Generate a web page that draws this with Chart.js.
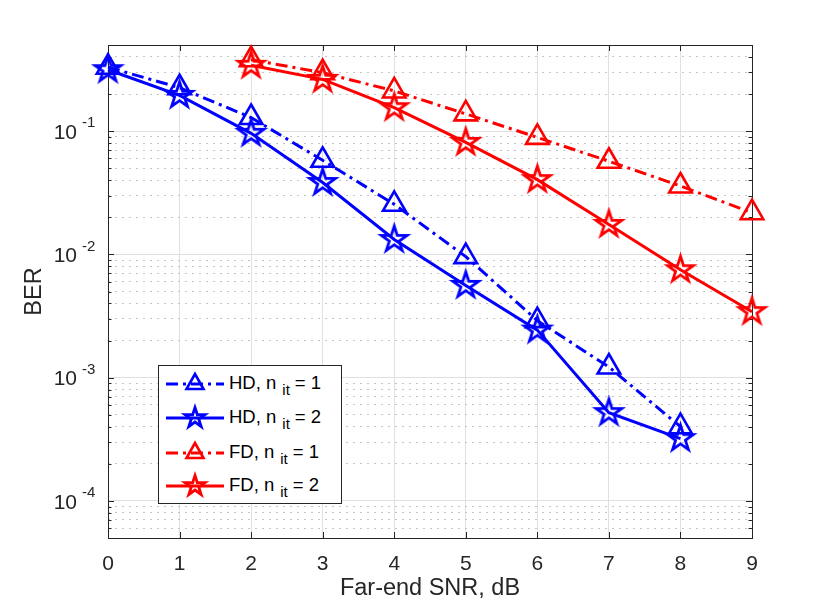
<!DOCTYPE html>
<html>
<head>
<meta charset="utf-8">
<title>BER vs far-end SNR</title>
<script src="https://cdn.jsdelivr.net/npm/chart.js@4.4.1/dist/chart.umd.min.js"></script>
<style>
  body { margin: 0; background: #fff; }
  #wrap { position: relative; width: 830px; height: 605px; }
  #legend {
    position: absolute; left: 158px; top: 365px; width: 182px; height: 137px;
    border: 1px solid #262626; background: #fff;
    font-family: "Liberation Sans", Arial, Helvetica, sans-serif; font-size: 18.5px; color: #000;
  }
  .row { position: absolute; left: 0; width: 182px; height: 30px; }
  .row svg { position: absolute; left: 6px; top: 0; }
  .row span { position: absolute; left: 70px; top: 3px; white-space: nowrap; }
  .row sub { font-size: 15px; position: relative; top: 6px; vertical-align: baseline; margin: 0 5px 0 6px; }
</style>
</head>
<body>
<div id="wrap">
  <canvas id="berChart" width="830" height="605"></canvas>
  <div id="legend"></div>
</div>
<script>
// Far-end SNR in dB
const snrDb = [0, 1, 2, 3, 4, 5, 6, 7, 8, 9];

// BER values (null = not simulated)
const hdIt1 = [0.33, 0.225, 0.129, 0.058, 0.0255, 0.0096, 0.0029, 0.00122, 0.0004, null];
const hdIt2 = [0.315, 0.195, 0.096, 0.0383, 0.0132, 0.0056, 0.00243, 0.00052, 0.00032, null];
const fdIt1 = [null, null, 0.38, 0.298, 0.212, 0.138, 0.089, 0.057, 0.0359, 0.0218];
const fdIt2 = [null, null, 0.342, 0.263, 0.155, 0.081, 0.0404, 0.0175, 0.0075, 0.00343];

// decades that get a "10^n" label
const yDecades = [-4, -3, -2, -1];

const BLUE = '#0000ff';
const RED = '#ff0000';
const AXIS = '#262626';
const FONT = '"Liberation Sans", Arial, Helvetica, sans-serif';
const DASH_DOT = [12, 5, 3, 5];

const isMajor = v => Math.abs(Math.log10(v) - Math.round(Math.log10(v))) < 1e-9;

/**
 * Builds an open pentagram on a small canvas, used as a point style.
 */
function makePentagram(color, outer, lineWidth) {
  const size = Math.ceil(2 * (outer + lineWidth + 1));
  const c = document.createElement('canvas');
  c.width = size;
  c.height = size;
  const g = c.getContext('2d');
  const inner = outer * 0.382;
  g.beginPath();
  for (let k = 0; k < 10; k++) {
    const r = k % 2 === 0 ? outer : inner;
    const a = -Math.PI / 2 + k * Math.PI / 5;
    const px = size / 2 + r * Math.cos(a);
    const py = size / 2 + r * Math.sin(a);
    if (k === 0) g.moveTo(px, py); else g.lineTo(px, py);
  }
  g.closePath();
  g.lineJoin = 'miter';
  g.lineWidth = lineWidth;
  g.strokeStyle = color;
  g.stroke();
  return c;
}

function toPoints(values) {
  return snrDb.map((x, i) => ({ x, y: values[i] })).filter(p => p.y !== null);
}

function makeDataset(label, values, color, dashed, marker) {
  return {
    label,
    data: toPoints(values),
    borderColor: color,
    borderWidth: 3,
    borderDash: dashed ? DASH_DOT : [],
    backgroundColor: 'transparent',
    pointStyle: marker === 'star' ? makePentagram(color, 13.5, 2.8) : 'triangle',
    pointRadius: 13,
    pointBorderWidth: 2.6,
    pointBorderColor: color,
    pointBackgroundColor: 'rgba(0,0,0,0)',
    pointHoverRadius: 13,
    tension: 0,
    clip: false
  };
}

// frame with inward tick marks, drawn under the data like MATLAB does
const framePlugin = {
  id: 'frame',
  beforeDatasetsDraw(chart) {
    const { ctx, chartArea: { left, right, top, bottom } } = chart;
    const xs = chart.scales.x;
    const ys = chart.scales.y;
    ctx.save();
    ctx.strokeStyle = AXIS;
    ctx.lineWidth = 1;
    ctx.beginPath();
    xs.ticks.forEach(t => {
      const px = Math.round(xs.getPixelForValue(t.value)) + 0.5;
      ctx.moveTo(px, bottom); ctx.lineTo(px, bottom - 6);
      ctx.moveTo(px, top); ctx.lineTo(px, top + 6);
    });
    ys.ticks.forEach(t => {
      const py = Math.round(ys.getPixelForValue(t.value)) + 0.5;
      const len = isMajor(t.value) ? 6 : 3.5;
      ctx.moveTo(left, py); ctx.lineTo(left + len, py);
      ctx.moveTo(right, py); ctx.lineTo(right - len, py);
    });
    ctx.stroke();
    ctx.strokeRect(Math.round(left) + 0.5, Math.round(top) + 0.5,
      Math.round(right - left), Math.round(bottom - top));
    ctx.restore();
  }
};

// "10^n" labels on the log axis
const yLabelPlugin = {
  id: 'yLabels',
  afterDraw(chart) {
    const { ctx } = chart;
    const ys = chart.scales.y;
    const edge = chart.chartArea.left;
    ctx.save();
    ctx.fillStyle = AXIS;
    ctx.textBaseline = 'middle';
    yDecades.forEach(e => {
      const py = ys.getPixelForValue(Math.pow(10, e));
      ctx.font = '21px ' + FONT;
      ctx.textAlign = 'right';
      ctx.fillText('10', edge - 31, py + 2);
      ctx.font = '15px ' + FONT;
      ctx.textAlign = 'left';
      ctx.fillText(String(e), edge - 26, py - 8);
    });
    ctx.restore();
  }
};

function buildLegend(items) {
  const box = document.getElementById('legend');
  const tops = [3, 37, 72, 105];
  items.forEach((it, i) => {
    const row = document.createElement('div');
    row.className = 'row';
    row.style.top = tops[i] + 'px';
    const dash = it.dashed ? 'stroke-dasharray="12 5 3 5"' : '';
    let marker;
    if (it.marker === 'star') {
      const pts = [];
      for (let k = 0; k < 10; k++) {
        const r = k % 2 === 0 ? 10.5 : 4;
        const a = -Math.PI / 2 + k * Math.PI / 5;
        pts.push((30 + r * Math.cos(a)).toFixed(2) + ',' + (15 + r * Math.sin(a)).toFixed(2));
      }
      marker = `<polygon points="${pts.join(' ')}" fill="none" stroke="${it.color}" stroke-width="2.8"/>`;
    } else {
      marker = `<polygon points="30,5 38.5,20 21.5,20" fill="none" stroke="${it.color}" stroke-width="2.6"/>`;
    }
    row.innerHTML = `<svg width="62" height="30"><line x1="1" y1="15" x2="59" y2="15" stroke="${it.color}" stroke-width="3" ${dash}/>${marker}</svg>` +
      `<span>${it.name}, n<sub>it</sub>= ${it.nit}</span>`;
    box.appendChild(row);
  });
}

function init() {
  const ctx = document.getElementById('berChart').getContext('2d');
  new Chart(ctx, {
    type: 'line',
    data: {
      datasets: [
        makeDataset('HD, n_it = 1', hdIt1, BLUE, true, 'triangle'),
        makeDataset('HD, n_it = 2', hdIt2, BLUE, false, 'star'),
        makeDataset('FD, n_it = 1', fdIt1, RED, true, 'triangle'),
        makeDataset('FD, n_it = 2', fdIt2, RED, false, 'star')
      ]
    },
    options: {
      responsive: false,
      animation: false,
      layout: { padding: { top: 45, right: 78, left: 0, bottom: 0 } },
      plugins: {
        legend: { display: false },
        tooltip: { enabled: false }
      },
      scales: {
        x: {
          type: 'linear',
          min: 0,
          max: 9,
          afterFit: s => { s.height = 67; },
          ticks: {
            stepSize: 1,
            autoSkip: false,
            maxRotation: 0,
            padding: 14,
            color: AXIS,
            font: { family: FONT, size: 21 }
          },
          grid: { color: '#e0e0e0', lineWidth: 1, drawTicks: false },
          border: { display: false },
          title: {
            display: true,
            text: 'Far-end SNR, dB',
            color: AXIS,
            font: { family: FONT, size: 23.5 },
            padding: { top: 0, bottom: 2 }
          }
        },
        y: {
          type: 'logarithmic',
          min: 5e-5,
          max: 0.5,
          afterFit: s => { s.width = 108; },
          afterBuildTicks: s => {
            const ticks = [];
            for (let e = -5; e <= -1; e++) {
              for (let m = 1; m <= 9; m++) {
                const v = m * Math.pow(10, e);
                if (v >= 5e-5 * 0.999 && v <= 0.5 * 1.001) ticks.push({ value: v });
              }
            }
            s.ticks = ticks;
          },
          ticks: { display: false },
          grid: {
            drawTicks: false,
            lineWidth: 1,
            color: c => (c.tick && isMajor(c.tick.value) ? '#e0e0e0' : '#c4c4c4'),
            borderDash: c => (c.tick && !isMajor(c.tick.value) ? [2, 5] : [])
          },
          border: {
            display: false,
            dash: c => (c.tick && !isMajor(c.tick.value) ? [2, 5] : [])
          },
          title: {
            display: true,
            text: 'BER',
            color: AXIS,
            font: { family: FONT, size: 23.5 },
            padding: { top: 20, bottom: 0 }
          }
        }
      }
    },
    plugins: [framePlugin, yLabelPlugin]
  });

  buildLegend([
    { name: 'HD', nit: 1, color: BLUE, dashed: true, marker: 'triangle' },
    { name: 'HD', nit: 2, color: BLUE, dashed: false, marker: 'star' },
    { name: 'FD', nit: 1, color: RED, dashed: true, marker: 'triangle' },
    { name: 'FD', nit: 2, color: RED, dashed: false, marker: 'star' }
  ]);
}

document.addEventListener('DOMContentLoaded', init);
</script>
</body>
</html>
